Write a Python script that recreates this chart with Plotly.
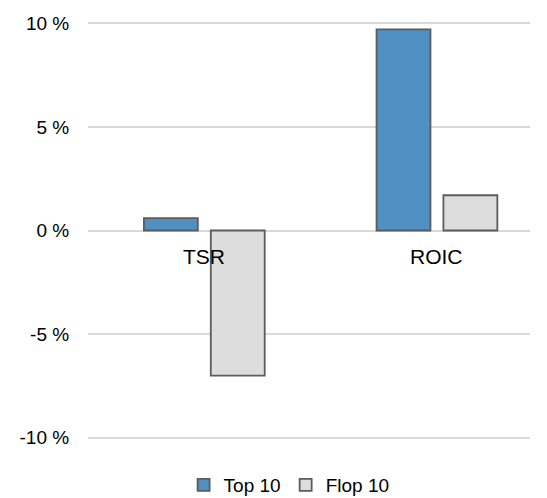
import plotly.graph_objects as go

categories = ["TSR", "ROIC"]
series_names = ["Top 10", "Flop 10"]
top10 = [0.6, 9.7]
flop10 = [-7.0, 1.7]
y_ticks = [-10, -5, 0, 5, 10]
y_tick_labels = ["-10 %", "-5 %", "0 %", "5 %", "10 %"]

FONT = "Liberation Sans, Arial, sans-serif"
EDGE = "#5c5c5c"
GRID = "#d9d9d9"

fig = go.Figure()
fig.add_trace(go.Bar(
    name=series_names[0], x=categories, y=top10,
    marker=dict(color="#5090c2", line=dict(color=EDGE, width=1.8)),
))
fig.add_trace(go.Bar(
    name=series_names[1], x=categories, y=flop10,
    marker=dict(color="#dddddd", line=dict(color=EDGE, width=1.8)),
))

# category labels sit just under the zero line
for cat in categories:
    fig.add_annotation(
        x=cat, y=0, text=cat, showarrow=False,
        yanchor="middle", yshift=-26,
        font=dict(family=FONT, size=21, color="#000000"),
    )

fig.update_layout(
    width=547, height=498,
    margin=dict(l=88, r=17, t=17, b=54),
    paper_bgcolor="white", plot_bgcolor="white",
    barmode="group", bargap=0.425, bargroupgap=0.194,
    font=dict(family=FONT, size=19, color="#000000"),
    showlegend=True,
    legend=dict(
        orientation="h", x=0.455, xanchor="center",
        yref="container", y=0.026, yanchor="middle",
        font=dict(family=FONT, size=19), itemwidth=30, traceorder="normal",
    ),
    xaxis=dict(
        type="category", range=[-0.5, 1.4],
        showticklabels=False, showgrid=False, zeroline=False, showline=False,
    ),
    yaxis=dict(
        range=[-10.3, 10.3], tickvals=y_ticks, ticktext=y_tick_labels,
        showgrid=True, gridcolor=GRID, gridwidth=1.5,
        zeroline=True, zerolinecolor=GRID, zerolinewidth=1.5,
        ticks="outside", ticklen=14, tickcolor="rgba(0,0,0,0)",
        showline=False,
    ),
)

fig.write_html("out.html")
